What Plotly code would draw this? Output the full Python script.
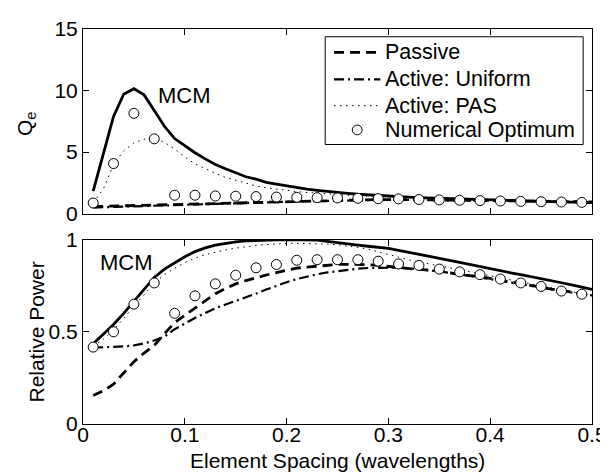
import plotly.graph_objects as go

# ---------------- data ----------------
spacing = [round(0.01 * i, 2) for i in range(1, 51)]
opt_spacing = [round(0.01 + 0.02 * i, 2) for i in range(25)]

# Q_e (top panel)
q_mcm = [1.84, 4.9, 7.9, 9.7, 10.15, 9.65, 8.4, 7.1, 6.1, 5.5,
         4.95, 4.45, 4.0, 3.65, 3.3, 3.0, 2.8, 2.55, 2.4, 2.25,
         2.15, 2.0, 1.9, 1.8, 1.72, 1.65, 1.58, 1.52, 1.47, 1.42,
         1.38, 1.34, 1.3, 1.27, 1.24, 1.21, 1.18, 1.15, 1.13, 1.1,
         1.08, 1.06, 1.04, 1.02, 1.0, 0.98, 0.96, 0.94, 0.92, 0.9]
q_pas = [0.9, 2.0, 4.0, 5.1, 5.75, 6.05, 6.1, 5.8, 5.25, 4.6,
         4.05, 3.65, 3.28, 2.95, 2.7, 2.45, 2.25, 2.1, 1.98, 1.88,
         1.8, 1.72, 1.65, 1.6, 1.55, 1.5, 1.46, 1.42, 1.39, 1.36,
         1.33, 1.3, 1.27, 1.25, 1.22, 1.19, 1.16, 1.14, 1.11, 1.09,
         1.07, 1.05, 1.03, 1.01, 0.99, 0.97, 0.95, 0.93, 0.91, 0.89]
q_passive = [0.58, 0.6, 0.62, 0.64, 0.66, 0.68, 0.7, 0.72, 0.75, 0.78,
             0.8, 0.83, 0.85, 0.88, 0.9, 0.93, 0.95, 0.97, 0.99, 1.01,
             1.03, 1.05, 1.07, 1.09, 1.1, 1.12, 1.13, 1.14, 1.15, 1.15,
             1.15, 1.15, 1.14, 1.13, 1.12, 1.11, 1.1, 1.09, 1.08, 1.07,
             1.06, 1.05, 1.04, 1.02, 1.01, 1.0, 0.98, 0.97, 0.96, 0.95]
q_uniform = [0.5, 0.52, 0.54, 0.56, 0.58, 0.6, 0.62, 0.65, 0.68, 0.71,
             0.74, 0.77, 0.8, 0.83, 0.86, 0.88, 0.91, 0.93, 0.95, 0.97,
             0.99, 1.01, 1.03, 1.05, 1.06, 1.08, 1.09, 1.1, 1.11, 1.12,
             1.12, 1.12, 1.12, 1.11, 1.11, 1.1, 1.09, 1.08, 1.07, 1.06,
             1.05, 1.04, 1.03, 1.02, 1.0, 0.99, 0.98, 0.97, 0.96, 0.95]
q_opt = [0.87, 4.07, 8.15, 6.08, 1.5, 1.5, 1.44, 1.42, 1.39, 1.35,
         1.33, 1.3, 1.28, 1.25, 1.22, 1.2, 1.15, 1.12, 1.09, 1.06,
         1.03, 1.0, 0.97, 0.95, 0.92]

# Relative power (bottom panel)
p_mcm = [0.435, 0.485, 0.54, 0.6, 0.663, 0.73, 0.795, 0.84, 0.874, 0.907,
         0.935, 0.955, 0.97, 0.98, 0.988, 0.993, 0.996, 0.998, 0.999, 1.0,
         1.0, 0.999, 0.997, 0.99, 0.982, 0.976, 0.97, 0.964, 0.958, 0.952,
         0.942, 0.932, 0.922, 0.911, 0.9, 0.888, 0.876, 0.864, 0.852, 0.84,
         0.83, 0.82, 0.81, 0.8, 0.79, 0.778, 0.766, 0.754, 0.742, 0.73]
p_pas = [0.42, 0.46, 0.51, 0.575, 0.64, 0.705, 0.765, 0.81, 0.845, 0.875,
         0.9, 0.918, 0.932, 0.944, 0.954, 0.962, 0.968, 0.973, 0.977, 0.979,
         0.98, 0.98, 0.979, 0.976, 0.972, 0.966, 0.958, 0.948, 0.935, 0.92,
         0.905, 0.89, 0.878, 0.867, 0.857, 0.847, 0.836, 0.825, 0.814, 0.802,
         0.79, 0.779, 0.768, 0.757, 0.746, 0.736, 0.726, 0.716, 0.706, 0.698]
p_passive = [0.154, 0.18, 0.216, 0.275, 0.338, 0.385, 0.426, 0.49, 0.549, 0.59,
             0.628, 0.67, 0.707, 0.735, 0.76, 0.778, 0.795, 0.808, 0.821, 0.834,
             0.845, 0.851, 0.856, 0.861, 0.865, 0.866, 0.866, 0.864, 0.86, 0.854,
             0.847, 0.843, 0.838, 0.834, 0.83, 0.82, 0.81, 0.805, 0.8, 0.79,
             0.78, 0.77, 0.76, 0.75, 0.74, 0.732, 0.724, 0.715, 0.706, 0.698]
p_uniform = [0.414, 0.415, 0.417, 0.421, 0.426, 0.437, 0.453, 0.474, 0.514, 0.545,
             0.575, 0.602, 0.628, 0.648, 0.667, 0.687, 0.707, 0.729, 0.751, 0.769,
             0.786, 0.801, 0.812, 0.822, 0.83, 0.836, 0.842, 0.846, 0.848, 0.849,
             0.848, 0.845, 0.84, 0.835, 0.828, 0.82, 0.812, 0.804, 0.796, 0.788,
             0.778, 0.768, 0.758, 0.748, 0.739, 0.73, 0.722, 0.713, 0.705, 0.697]
p_opt = [0.417, 0.50, 0.65, 0.765, 0.60, 0.695, 0.76, 0.807, 0.847, 0.865,
         0.888, 0.891, 0.891, 0.891, 0.883, 0.868, 0.86, 0.84, 0.825, 0.81,
         0.786, 0.765, 0.746, 0.721, 0.704]

x_ticks = [0, 0.1, 0.2, 0.3, 0.4, 0.5]
q_ticks = [0, 5, 10, 15]
p_ticks = [0, 0.5, 1]
legend_names = ["Passive", "Active: Uniform", "Active: PAS", "Numerical Optimum"]

# ---------------- figure ----------------
FONT = "Liberation Sans, Arial, Helvetica, sans-serif"
FS = 21
W, H = 608, 472
ML, MR, MT, MB = 75, 16, 9, 56
PW, PH = W - ML - MR, H - MT - MB

def px_x(px):  # pixel -> paper x
    return (px - ML) / PW

def px_y(py):  # pixel -> paper y
    return (H - MB - py) / PH

styles = {
    "mcm": dict(color="black", width=2.8),
    "passive": dict(color="black", width=2.8, dash="10px,6px"),
    "uniform": dict(color="black", width=2.2, dash="10px,4px,2px,4px"),
    "pas": dict(color="black", width=1, dash="1.5px,4.5px"),
}
marker_style = dict(symbol="circle", size=10, color="white",
                    line=dict(color="black", width=1))

fig = go.Figure()

def add_panel(xa, ya, mcm, passive, uniform, pas, opt):
    fig.add_trace(go.Scatter(x=spacing, y=mcm, mode="lines", line=styles["mcm"],
                             name="MCM", showlegend=False, xaxis=xa, yaxis=ya))
    fig.add_trace(go.Scatter(x=spacing, y=passive, mode="lines", line=styles["passive"],
                             name=legend_names[0], showlegend=False, xaxis=xa, yaxis=ya))
    fig.add_trace(go.Scatter(x=spacing, y=uniform, mode="lines", line=styles["uniform"],
                             name=legend_names[1], showlegend=False, xaxis=xa, yaxis=ya))
    fig.add_trace(go.Scatter(x=spacing, y=pas, mode="lines", line=styles["pas"],
                             name=legend_names[2], showlegend=False, xaxis=xa, yaxis=ya))
    fig.add_trace(go.Scatter(x=opt_spacing, y=opt, mode="markers", marker=marker_style,
                             name=legend_names[3], showlegend=False, xaxis=xa, yaxis=ya))

add_panel("x", "y", q_mcm, q_passive, q_uniform, q_pas, q_opt)
add_panel("x2", "y2", p_mcm, p_passive, p_uniform, p_pas, p_opt)

axis_common = dict(showgrid=False, zeroline=False, showline=True, linecolor="black",
                   linewidth=1, mirror="ticks", ticks="inside", ticklen=6,
                   tickcolor="black", tickfont=dict(family=FONT, size=FS, color="black"))

# ---- legend box drawn in the top panel (MATLAB-style spacing) ----
box_l, box_r, box_t, box_b = 321, 583, 17, 128
row_y = [33, 61, 88, 113]
line_x0, line_x1, text_x = 330, 377, 380
shapes = [dict(type="rect", xref="paper", yref="paper", layer="above",
               x0=px_x(box_l), x1=px_x(box_r), y0=px_y(box_b), y1=px_y(box_t),
               line=dict(color="black", width=1), fillcolor="white")]
sample_lines = [styles["passive"], styles["uniform"], styles["pas"]]
for ly, st in zip(row_y[:3], sample_lines):
    shapes.append(dict(type="line", xref="paper", yref="paper", layer="above",
                       x0=px_x(line_x0), x1=px_x(line_x1), y0=px_y(ly), y1=px_y(ly),
                       line=dict(color="black", width=st["width"], dash=st.get("dash", "solid"))))
cx, cy, r = (line_x0 + line_x1) / 2, row_y[3], 5
shapes.append(dict(type="circle", xref="paper", yref="paper", layer="above",
                   x0=px_x(cx - r), x1=px_x(cx + r), y0=px_y(cy + r), y1=px_y(cy - r),
                   line=dict(color="black", width=1), fillcolor="white"))

LFS = 21.5
annotations = [
    dict(text=name, x=px_x(text_x), y=px_y(ly), xref="paper", yref="paper",
         xanchor="left", yanchor="middle", showarrow=False,
         font=dict(family=FONT, size=LFS, color="black"))
    for name, ly in zip(legend_names, row_y)
]
annotations += [
    dict(text="MCM", x=0.1, y=9.63, xref="x", yref="y", showarrow=False,
         font=dict(family=FONT, size=22, color="black")),
    dict(text="MCM", x=0.043, y=0.874, xref="x2", yref="y2", showarrow=False,
         font=dict(family=FONT, size=22, color="black")),
    dict(text="Element Spacing (wavelengths)", x=0.5, y=px_y(454), xref="paper",
         yref="paper", xanchor="center", yanchor="middle", showarrow=False,
         font=dict(family=FONT, size=FS, color="black")),
    dict(text="Q<sub>e</sub>", x=px_x(17), y=px_y(106), xref="paper", yref="paper",
         xanchor="center", yanchor="middle", textangle=-90, showarrow=False,
         font=dict(family=FONT, size=FS, color="black")),
    dict(text="Relative Power", x=px_x(28), y=px_y(321), xref="paper", yref="paper",
         xanchor="center", yanchor="middle", textangle=-90, showarrow=False,
         font=dict(family=FONT, size=FS, color="black")),
]

fig.update_layout(
    width=W, height=H,
    margin=dict(l=ML, r=MR, t=MT, b=MB),
    plot_bgcolor="white", paper_bgcolor="white",
    font=dict(family=FONT, size=FS, color="black"),
    showlegend=False,
    xaxis=dict(domain=[0, 1], anchor="y", range=[0, 0.5], tickvals=x_ticks,
               showticklabels=False, **axis_common),
    yaxis=dict(domain=[px_y(199.3), 1], anchor="x", range=[0, 15], tickvals=q_ticks,
               **axis_common),
    xaxis2=dict(domain=[0, 1], anchor="y2", range=[0, 0.5], tickvals=x_ticks,
                ticktext=[str(v) for v in x_ticks], ticklabelstandoff=-8,
                **axis_common),
    yaxis2=dict(domain=[0, px_y(226)], anchor="x2", range=[0, 1], tickvals=p_ticks,
                ticktext=["0", "0.5", "1"], **axis_common),
    shapes=shapes,
    annotations=annotations,
)

fig.write_html("out.html")
